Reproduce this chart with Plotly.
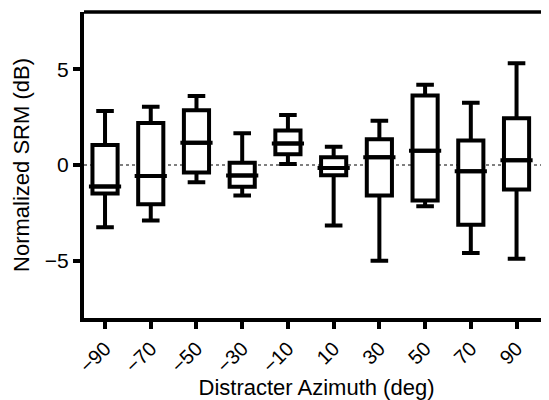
import plotly.graph_objects as go

categories = ["\u221290", "\u221270", "\u221250", "\u221230", "\u221210", "10", "30", "50", "70", "90"]
upper_fence = [2.82, 3.05, 3.61, 1.66, 2.61, 0.96, 2.32, 4.20, 3.26, 5.32]
q3 = [1.05, 2.19, 2.86, 0.12, 1.81, 0.40, 1.35, 3.64, 1.28, 2.44]
median = [-1.13, -0.58, 1.16, -0.55, 1.12, -0.16, 0.40, 0.75, -0.33, 0.25]
q1 = [-1.49, -2.05, -0.39, -1.14, 0.56, -0.53, -1.60, -1.86, -3.12, -1.28]
lower_fence = [-3.25, -2.90, -0.90, -1.60, 0.05, -3.16, -5.00, -2.16, -4.60, -4.90]
y_ticks = [-5, 0, 5]

FONT = "Liberation Sans, Arial, Helvetica, sans-serif"

fig = go.Figure()
fig.add_trace(go.Box(
    x=categories, q1=q1, median=median, q3=q3,
    lowerfence=lower_fence, upperfence=upper_fence,
    line=dict(color="black", width=4), fillcolor="white",
    width=0.55, whiskerwidth=0.7, boxpoints=False, showlegend=False,
    hoverinfo="skip",
))
fig.add_trace(go.Scatter(
    x=categories, y=median, mode="markers",
    marker=dict(symbol="line-ew", size=23, line=dict(color="black", width=4)),
    showlegend=False, hoverinfo="skip",
))

fig.add_shape(type="line", xref="paper", yref="y", x0=0, x1=1, y0=0, y1=0,
              line=dict(color="black", width=1, dash="dot"), layer="below")
fig.add_shape(type="line", xref="paper", yref="paper", x0=0, x1=1, y0=1, y1=1,
              line=dict(color="black", width=3.5))

# the page places the figure 8px in from the top-left corner
fig.update_layout(
    width=541, height=392,
    margin=dict(l=76, r=0, t=4, b=82, autoexpand=False),
    paper_bgcolor="white", plot_bgcolor="white",
    font=dict(family=FONT, size=20, color="black"),
    xaxis=dict(
        type="category", range=[-0.46, 9.71], automargin=False,
        showline=True, linecolor="black", linewidth=4,
        ticks="outside", ticklen=7, tickwidth=4, tickcolor="black",
        tickangle=-45, showgrid=False, zeroline=False,
        tickfont=dict(size=20),
        title=dict(text="Distracter Azimuth (deg)", font=dict(size=22), standoff=3),
    ),
    yaxis=dict(
        range=[-8, 8], tickvals=y_ticks, automargin=False,
        ticktext=[str(v).replace("-", "\u2212") for v in y_ticks],
        showline=True, linecolor="black", linewidth=4,
        ticks="outside", ticklen=7, tickwidth=4, tickcolor="black",
        showgrid=False, zeroline=False,
        tickfont=dict(size=21),
        title=dict(text="Normalized SRM (dB)", font=dict(size=22), standoff=10),
    ),
)

fig.write_html("out.html")
